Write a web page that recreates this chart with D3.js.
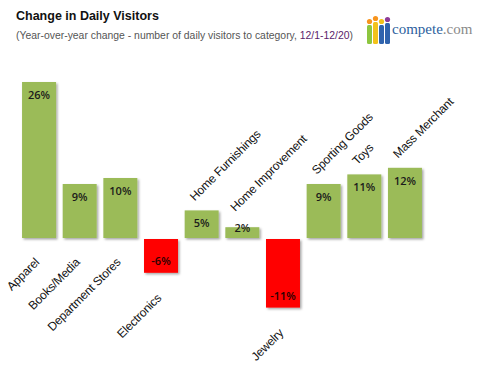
<!DOCTYPE html>
<html>
<head>
<meta charset="utf-8">
<script src="https://cdn.jsdelivr.net/npm/d3@7"></script>
<style>
  html, body { margin: 0; padding: 0; background: #fff; }
  svg { display: block; }
</style>
</head>
<body>
<div id="chart"></div>
<script>
const categories = [
  "Apparel", "Books/Media", "Department Stores", "Electronics",
  "Home Furnishings", "Home Improvement", "Jewelry",
  "Sporting Goods", "Toys", "Mass Merchant",
];
// bar heights
const values = [26, 9, 10, -5.8, 4.6, 1.8, -11.6, 9, 10.6, 11.7];
// printed labels
const valueLabels = ["26%", "9%", "10%", "-6%", "5%", "2%", "-11%", "9%", "11%", "12%"];

const title = "Change in Daily Visitors";
const subtitle = "(Year-over-year change - number of daily visitors to category, ";
const subtitleDates = "12/1-12/20";

const width = 480;
const height = 368;
const baseY = 238;

const svg = d3.select("#chart")
  .append("svg")
  .attr("width", width)
  .attr("height", height);

const defs = svg.append("defs");
const shadow = defs.append("filter")
  .attr("id", "shadow")
  .attr("x", "-20%").attr("y", "-20%")
  .attr("width", "150%").attr("height", "150%");
shadow.append("feDropShadow")
  .attr("dx", 1.5).attr("dy", 1.5)
  .attr("stdDeviation", 1)
  .attr("flood-color", "#000")
  .attr("flood-opacity", 0.35);

const lineGrad = defs.append("linearGradient").attr("id", "hdrline");
lineGrad.append("stop").attr("offset", "0%").attr("stop-color", "#bbb");
lineGrad.append("stop").attr("offset", "85%").attr("stop-color", "#ccc");
lineGrad.append("stop").attr("offset", "100%").attr("stop-color", "#eee");

// header
svg.append("text")
  .attr("x", 16).attr("y", 20)
  .attr("font-family", "Liberation Sans, Arial, sans-serif")
  .attr("font-weight", "bold")
  .attr("font-size", 12.5)
  .attr("fill", "#111")
  .text(title);

const sub = svg.append("text")
  .attr("x", 16).attr("y", 38.5)
  .attr("font-family", "Liberation Sans, Arial, sans-serif")
  .attr("font-size", 10.5)
  .attr("fill", "#555")
  .attr("textLength", 337)
  .attr("lengthAdjust", "spacingAndGlyphs");
sub.append("tspan").text(subtitle);
sub.append("tspan").attr("fill", "#5a1d6a").text(subtitleDates);
sub.append("tspan").text(")");

svg.append("line")
  .attr("x1", 12).attr("x2", 477)
  .attr("y1", 47.5).attr("y2", 47.5)
  .attr("stroke", "url(#hdrline)")
  .attr("stroke-width", 1);

// logo
const logo = svg.append("g").attr("transform", "translate(366,16)");
const people = [
  { x: 1, head: "#f7941d", body: "#8dc63f", top: 8 },
  { x: 7, head: "#f7941d", body: "#f2c21b", top: 5 },
  { x: 13, head: "#f2c21b", body: "#2f63ad", top: 8 },
  { x: 19, head: "#8e3c97", body: "#2f63ad", top: 6 },
];
people.forEach((p) => {
  logo.append("circle")
    .attr("cx", p.x + 2.5).attr("cy", p.top - 2.5).attr("r", 2.6)
    .attr("fill", p.head);
  logo.append("rect")
    .attr("x", p.x).attr("y", p.top + 1)
    .attr("width", 5).attr("height", 27 - p.top)
    .attr("rx", 1.5)
    .attr("fill", p.body);
});
const logoText = svg.append("text")
  .attr("x", 392).attr("y", 34)
  .attr("font-family", "Liberation Serif, DejaVu Serif, serif")
  .attr("font-size", 15);
logoText.append("tspan").attr("fill", "#2d5f9e").text("compete");
logoText.append("tspan").attr("fill", "#8a8a8a").text(".com");

// scales
const x = d3.scaleBand()
  .domain(categories)
  .range([18.7, 425.3])
  .paddingInner(0.164)
  .paddingOuter(0.082);

const y = d3.scaleLinear()
  .domain([-12, 26])
  .range([baseY + 72, baseY - 156]);

const data = categories.map((c, i) => ({ c, v: values[i], label: valueLabels[i], i }));

// axis line
svg.append("line")
  .attr("x1", x.range()[0]).attr("x2", x.range()[1])
  .attr("y1", y(0)).attr("y2", y(0))
  .attr("stroke", "#9a9a9a")
  .attr("stroke-width", 1.5)
  .attr("filter", "url(#shadow)");

// bars
svg.append("g")
  .selectAll("rect")
  .data(data)
  .join("rect")
  .attr("x", (d) => x(d.c))
  .attr("width", x.bandwidth())
  .attr("y", (d) => (d.v >= 0 ? y(d.v) : y(0) + 1))
  .attr("height", (d) => Math.abs(y(d.v) - y(0)) - (d.v >= 0 ? 0 : 1))
  .attr("fill", (d) => (d.v >= 0 ? "#9bbb59" : "#ff0000"))
  .attr("filter", "url(#shadow)");

// value labels
svg.append("g")
  .selectAll("text")
  .data(data)
  .join("text")
  .attr("x", (d) => x(d.c) + x.bandwidth() / 2)
  .attr("y", (d) =>
    d.v >= 0 ? Math.min(y(d.v) + 13, y(0) - 10) : y(d.v) - 11.5)
  .attr("dy", "0.35em")
  .attr("text-anchor", "middle")
  .attr("font-family", "Open Sans, Lato, sans-serif")
  .attr("font-weight", 600)
  .attr("font-size", 11)
  .attr("fill", (d) => (d.v >= 0 ? "#1b1b1b" : "#2a0000"))
  .text((d) => d.label);

// category labels, rotated 45 degrees
svg.append("g")
  .selectAll("text")
  .data(data)
  .join("text")
  .attr("font-family", "Liberation Sans, Arial, sans-serif")
  .attr("font-size", 12)
  .attr("letter-spacing", -0.2)
  .attr("fill", "#111")
  .attr("text-anchor", (d) => (d.v > 0 && d.i > 3 ? "start" : "end"))
  .attr("transform", (d) => {
    const cx = x(d.c) + x.bandwidth() / 2;
    let px, py;
    if (d.v < 0) {
      px = cx + 1; py = y(d.v) + 26;
    } else if (d.i > 3) {
      px = cx - 7; py = Math.min(y(d.v) - 9, y(0) - 26);
    } else {
      px = cx + 1; py = y(0) + 25;
    }
    return `translate(${px},${py}) rotate(-45)`;
  })
  .text((d) => d.c);
</script>
</body>
</html>
